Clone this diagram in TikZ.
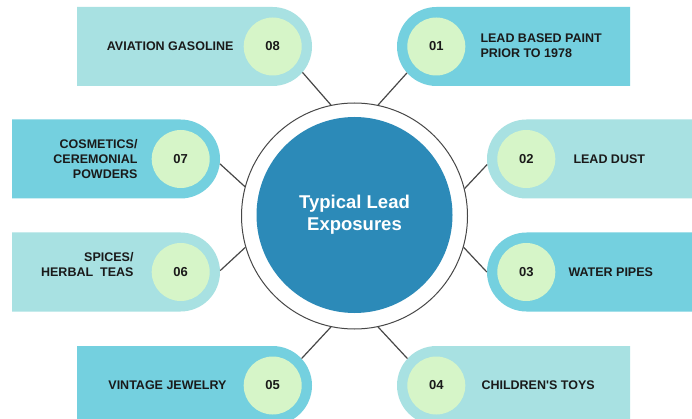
\documentclass[tikz,border=0pt]{standalone}
\usepackage{fontspec}
\setmainfont{Liberation Sans}
\usetikzlibrary{positioning, shapes.misc}

\definecolor{tealDark}{HTML}{74D0DF}
\definecolor{tealLight}{HTML}{A8E1E2}
\definecolor{mint}{HTML}{D6F5C8}
\definecolor{hubBlue}{HTML}{2C8AB8}
\definecolor{inkDark}{HTML}{1A1A1A}
\definecolor{lineGray}{HTML}{474747}

\tikzset{
	blocco/.style={rounded rectangle, minimum height=79pt, inner sep=0pt},
	bloccoSx/.style={blocco, rounded rectangle left arc=none},
	bloccoDx/.style={blocco, rounded rectangle right arc=none},
	bubble/.style={circle, fill=mint, minimum size=58pt, inner sep=0pt, outer sep=10.5pt, text=inkDark, font=\fontsize{13}{15}\selectfont\bfseries},
	etichetta/.style={inner sep=0pt, text=inkDark, font=\fontsize{12.5}{15}\selectfont\bfseries},
	collegamento/.style={lineGray, line width=1.2pt}
}

\begin{document}
\begin{tikzpicture}[x=1pt, y=-1pt]
		
		\clip (0,0) rectangle (692,419);
		\fill[white] (0,0) rectangle (692,419);
		
		%Disegno il cerchio centrale
		\node(Hub) at (354.5,216) [circle, draw=lineGray, line width=1pt, fill=white, minimum size=226pt, inner sep=0pt]{};
		\node(Core) at (354.5,215) [circle, fill=hubBlue, minimum size=196pt, inner sep=0pt, text=white, align=center, font=\fontsize{18.5}{22}\selectfont\bfseries]{Typical Lead\\Exposures};
		
		%Rappresento i blocchi
		\node(AviationGasoline) at (194.5,46.5) [bloccoSx, fill=tealLight, minimum width=235pt]{};
		\node(LeadPaint) at (513.5,46.5) [bloccoDx, fill=tealDark, minimum width=233pt]{};
		\node(Cosmetics) at (116,159) [bloccoSx, fill=tealDark, minimum width=208pt]{};
		\node(LeadDust) at (603.5,159) [bloccoDx, fill=tealLight, minimum width=233pt]{};
		\node(Spices) at (116,272) [bloccoSx, fill=tealLight, minimum width=208pt]{};
		\node(WaterPipes) at (603.5,272) [bloccoDx, fill=tealDark, minimum width=233pt]{};
		\node(VintageJewelry) at (194.5,385.5) [bloccoSx, fill=tealDark, minimum width=235pt]{};
		\node(ChildrensToys) at (513.5,385.5) [bloccoDx, fill=tealLight, minimum width=233pt]{};
		
		%Inserisco le bubble (centrate sull'arco del blocco)
		\node(bubble08) [bubble, left=0pt of AviationGasoline.east]{08};
		\node(bubble01) [bubble, right=0pt of LeadPaint.west]{01};
		\node(bubble07) [bubble, left=0pt of Cosmetics.east]{07};
		\node(bubble02) [bubble, right=0pt of LeadDust.west]{02};
		\node(bubble06) [bubble, left=0pt of Spices.east]{06};
		\node(bubble03) [bubble, right=0pt of WaterPipes.west]{03};
		\node(bubble05) [bubble, left=0pt of VintageJewelry.east]{05};
		\node(bubble04) [bubble, right=0pt of ChildrensToys.west]{04};
		
		%Scrivo le etichette
		\node(label08) [etichetta, left=-0.5pt of bubble08, align=right]{AVIATION GASOLINE};
		\node(label01) [etichetta, right=4.5pt of bubble01, align=left, yshift=1pt]{LEAD BASED PAINT\\PRIOR TO 1978};
		\node(label07) [etichetta, left=3.5pt of bubble07, align=right]{COSMETICS/\\CEREMONIAL\\POWDERS};
		\node(label02) [etichetta, right=7.5pt of bubble02, align=left]{LEAD DUST};
		\node(label06) [etichetta, left=7.5pt of bubble06, align=right, yshift=7.5pt]{SPICES/\\HERBAL\ \ TEAS};
		\node(label03) [etichetta, right=2.5pt of bubble03, align=left]{WATER PIPES};
		\node(label05) [etichetta, left=6.5pt of bubble05, align=right]{VINTAGE JEWELRY};
		\node(label04) [etichetta, right=5.5pt of bubble04, align=left]{CHILDREN\textquotesingle S TOYS};
		
		%Rappresento i collegamenti
		\draw[collegamento] (bubble08.-41.5) -- (Hub.102);
		\draw[collegamento] (bubble01.222.5) -- (Hub.78);
		\draw[collegamento] (bubble07.-7) -- (Hub.165.5);
		\draw[collegamento] (bubble02.188.6) -- (Hub.14.7);
		\draw[collegamento] (bubble06.2.8) -- (Hub.196);
		\draw[collegamento] (bubble03.180) -- (Hub.-16);
		\draw[collegamento] (bubble05.43.5) -- (Hub.258);
		\draw[collegamento] (bubble04.137) -- (Hub.282);
		
\end{tikzpicture}
\end{document}
